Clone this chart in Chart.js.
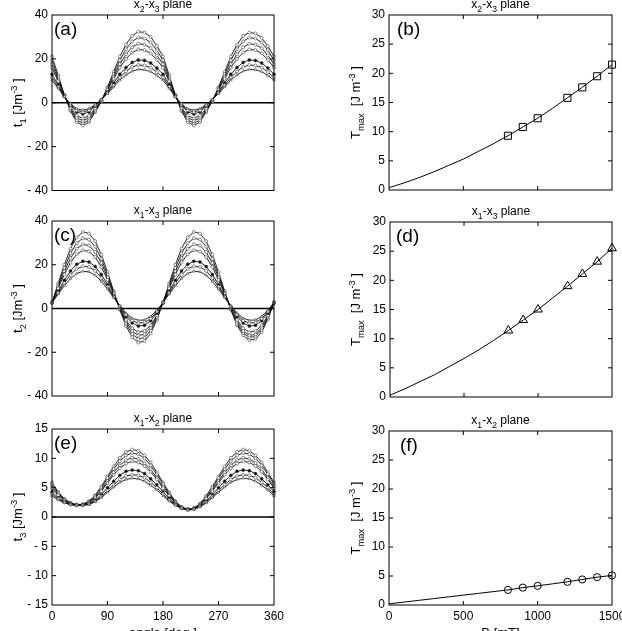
<!DOCTYPE html>
<html>
<head>
<meta charset="utf-8">
<script src="https://cdn.jsdelivr.net/npm/chart.js@4.4.0/dist/chart.umd.min.js"></script>
<style>
  html, body { margin: 0; padding: 0; background: #fff; }
  #wrap { position: relative; width: 622px; height: 631px; overflow: hidden; }
  #wrap canvas { position: absolute; left: 0; top: 0; }
</style>
</head>
<body>
<div id="wrap">
  <canvas id="pa" width="622" height="631"></canvas>
  <canvas id="pb" width="622" height="631"></canvas>
  <canvas id="pc" width="622" height="631"></canvas>
  <canvas id="pd" width="622" height="631"></canvas>
  <canvas id="pe" width="622" height="631"></canvas>
  <canvas id="pf" width="622" height="631"></canvas>
</div>
<script>
// angle axis, 10 deg steps
const angle = [0,10,20,30,40,50,60,70,80,90,100,110,120,130,140,150,160,170,180,
  190,200,210,220,230,240,250,260,270,280,290,300,310,320,330,340,350,360];
const fieldB = [800, 900, 1000, 1200, 1300, 1400, 1500];

// (a) t1, x2-x3 plane, one curve per field
const t1_800  = [10.3,6.6,2.7,-0.5,-2.7,-3.4,-2.7,-0.8,1.4,4.2,7.2,10.3,12.7,14.4,15.2,15.0,14.2,12.4,10.3,6.6,2.7,-0.5,-2.7,-3.4,-2.7,-0.8,1.4,4.2,7.2,10.3,12.7,14.4,15.2,15.0,14.2,12.4,10.3];
const t1_900  = [11.5,7.3,2.8,-0.9,-3.4,-4.2,-3.4,-1.2,1.3,4.6,8.0,11.5,14.3,16.3,17.2,17.0,16.0,14.0,11.5,7.3,2.8,-0.9,-3.4,-4.2,-3.4,-1.2,1.3,4.6,8.0,11.5,14.3,16.3,17.2,17.0,16.0,14.0,11.5];
const t1_1000 = [13.0,8.1,3.0,-1.3,-4.2,-5.1,-4.2,-1.6,1.3,5.0,9.0,13.0,16.1,18.4,19.5,19.3,18.1,15.8,13.0,8.1,3.0,-1.3,-4.2,-5.1,-4.2,-1.6,1.3,5.0,9.0,13.0,16.1,18.4,19.5,19.3,18.1,15.8,13.0];
const t1_1200 = [16.0,9.8,3.2,-2.3,-5.9,-7.1,-5.9,-2.6,1.0,5.8,10.9,16.0,20.0,22.9,24.3,24.0,22.5,19.6,16.0,9.8,3.2,-2.3,-5.9,-7.1,-5.9,-2.6,1.0,5.8,10.9,16.0,20.0,22.9,24.3,24.0,22.5,19.6,16.0];
const t1_1300 = [17.6,10.6,3.3,-2.8,-6.9,-8.2,-6.9,-3.2,0.9,6.2,11.9,17.6,22.1,25.3,26.9,26.5,24.9,21.6,17.6,10.6,3.3,-2.8,-6.9,-8.2,-6.9,-3.2,0.9,6.2,11.9,17.6,22.1,25.3,26.9,26.5,24.9,21.6,17.6];
const t1_1400 = [19.4,11.6,3.5,-3.3,-7.9,-9.3,-7.9,-3.8,0.8,6.7,13.0,19.4,24.4,28.0,29.7,29.3,27.5,23.9,19.4,11.6,3.5,-3.3,-7.9,-9.3,-7.9,-3.8,0.8,6.7,13.0,19.4,24.4,28.0,29.7,29.3,27.5,23.9,19.4];
const t1_1500 = [21.1,12.6,3.6,-3.8,-8.8,-10.4,-8.8,-4.3,0.6,7.1,14.1,21.1,26.5,30.5,32.4,32.0,30.0,26.0,21.1,12.6,3.6,-3.8,-8.8,-10.4,-8.8,-4.3,0.6,7.1,14.1,21.1,26.5,30.5,32.0,31.6,29.6,25.8,21.1];

// (c) t2, x1-x3 plane
const t2_800  = [2.7,6.6,10.4,13.7,16.0,17.0,16.8,15.2,12.4,8.9,5.0,1.2,-2.1,-4.4,-5.4,-5.2,-3.6,-0.8,2.7,6.6,10.4,13.7,16.0,17.0,16.8,15.2,12.4,8.9,5.0,1.2,-2.1,-4.4,-5.4,-5.2,-3.6,-0.8,2.7];
const t2_900  = [2.7,7.2,11.6,15.4,18.1,19.3,19.0,17.2,14.0,9.9,5.4,1.0,-2.8,-5.5,-6.7,-6.4,-4.6,-1.4,2.7,7.2,11.6,15.4,18.1,19.3,19.0,17.2,14.0,9.9,5.4,1.0,-2.8,-5.5,-6.7,-6.4,-4.6,-1.4,2.7];
const t2_1000 = [2.7,7.8,12.9,17.2,20.2,21.6,21.3,19.2,15.6,10.9,5.8,0.7,-3.6,-6.6,-8.0,-7.7,-5.6,-2.0,2.7,7.8,12.9,17.2,20.2,21.6,21.3,19.2,15.6,10.9,5.8,0.7,-3.6,-6.6,-8.0,-7.7,-5.6,-2.0,2.7];
const t2_1200 = [2.7,9.2,15.6,21.0,24.8,26.6,26.1,23.5,19.0,13.1,6.6,0.3,-5.2,-9.0,-10.8,-10.3,-7.7,-3.2,2.7,9.2,15.6,21.0,24.8,26.6,26.1,23.5,19.0,13.1,6.6,0.3,-5.2,-9.0,-10.8,-10.3,-7.7,-3.2,2.7];
const t2_1300 = [2.7,10.0,17.0,23.0,27.3,29.3,28.8,25.8,20.8,14.3,7.0,0.0,-6.0,-10.3,-12.3,-11.8,-8.8,-3.8,2.7,10.0,17.0,23.0,27.3,29.3,28.8,25.8,20.8,14.3,7.0,0.0,-6.0,-10.3,-12.3,-11.8,-8.8,-3.8,2.7];
const t2_1400 = [2.7,10.7,18.5,25.2,29.9,32.1,31.5,28.3,22.7,15.5,7.5,-0.3,-7.0,-11.7,-13.9,-13.3,-10.1,-4.5,2.7,10.7,18.5,25.2,29.9,32.1,31.5,28.3,22.7,15.5,7.5,-0.3,-7.0,-11.2,-13.2,-12.7,-9.7,-4.4,2.7];
const t2_1500 = [2.7,11.5,20.0,27.4,32.5,35.0,34.3,30.8,24.6,16.7,7.9,-0.6,-8.0,-13.1,-15.6,-14.9,-11.4,-5.2,2.7,11.5,20.0,27.4,32.5,35.0,34.3,30.8,24.6,16.7,7.9,-0.6,-7.6,-12.3,-14.5,-13.9,-10.8,-5.0,2.7];

// (e) t3, x1-x2 plane
const t3_800  = [3.6,2.9,2.4,2.1,2.0,2.0,2.1,2.6,3.3,4.2,5.1,5.9,6.4,6.6,6.5,6.1,5.4,4.6,3.6,2.7,2.0,1.4,1.2,1.3,1.7,2.4,3.3,4.2,5.1,5.9,6.4,6.6,6.5,6.1,5.4,4.6,3.6];
const t3_900  = [3.9,3.1,2.5,2.1,2.0,2.0,2.2,2.7,3.5,4.5,5.5,6.4,7.0,7.2,7.1,6.7,5.9,5.0,3.9,2.9,2.1,1.5,1.2,1.3,1.8,2.5,3.5,4.5,5.5,6.4,7.0,7.2,7.1,6.7,5.9,5.0,3.9];
const t3_1000 = [4.3,3.3,2.6,2.2,2.0,2.0,2.3,2.9,3.8,5.0,6.1,7.1,7.8,8.0,7.9,7.4,6.5,5.5,4.3,3.2,2.2,1.5,1.3,1.4,1.9,2.7,3.8,5.0,6.1,7.1,7.8,8.0,7.9,7.4,6.5,5.5,4.3];
const t3_1200 = [4.9,3.7,2.8,2.3,2.0,2.1,2.4,3.2,4.4,5.8,7.2,8.3,9.1,9.5,9.3,8.7,7.7,6.4,4.9,3.6,2.4,1.6,1.3,1.4,2.0,3.1,4.4,5.8,7.2,8.3,9.1,9.5,9.3,8.7,7.7,6.4,4.9];
const t3_1300 = [5.2,3.9,2.9,2.3,2.0,2.1,2.5,3.4,4.6,6.1,7.6,8.8,9.7,10.1,9.9,9.2,8.1,6.7,5.2,3.8,2.5,1.7,1.3,1.5,2.1,3.2,4.6,6.1,7.6,8.8,9.7,10.1,9.9,9.2,8.1,6.7,5.2];
const t3_1400 = [5.6,4.1,3.0,2.4,2.1,2.1,2.6,3.6,4.9,6.6,8.2,9.5,10.5,10.9,10.7,10.0,8.8,7.3,5.6,4.0,2.6,1.7,1.3,1.5,2.2,3.4,4.9,6.6,8.2,9.5,10.5,10.9,10.7,10.0,8.8,7.3,5.6];
const t3_1500 = [5.9,4.3,3.1,2.4,2.1,2.2,2.7,3.7,5.2,6.9,8.6,10.1,11.1,11.5,11.3,10.5,9.3,7.6,5.9,4.2,2.7,1.7,1.3,1.5,2.3,3.6,5.2,6.9,8.6,10.1,11.1,11.5,11.3,10.5,9.3,7.6,5.9];

// right column: Tmax vs B
const tmaxX2X3 = [9.3, 10.8, 12.3, 15.8, 17.6, 19.5, 21.5];
const tmaxX1X3 = [11.4, 13.2, 15.0, 19.0, 21.1, 23.2, 25.5];
const tmaxX1X2 = [2.6, 3.0, 3.3, 4.0, 4.4, 4.8, 5.1];
const fitB     = [0,100,200,300,400,500,600,700,800,900,1000,1100,1200,1300,1400,1500];
const fitX2X3  = [0.4,1.2,2.1,3.1,4.2,5.3,6.6,7.9,9.3,10.8,12.3,14.0,15.8,17.6,19.5,21.5];
const fitX1X3  = [0.3,1.4,2.6,3.8,5.2,6.6,8.1,9.7,11.4,13.2,15.0,17.0,19.0,21.1,23.2,25.5];
const fitX1X2  = [0.2,0.5,0.8,1.1,1.4,1.7,2.0,2.3,2.6,3.0,3.3,3.65,4.0,4.4,4.8,5.1];

const FONT = '"Liberation Sans", Arial, Helvetica, sans-serif';
const curveMarks = ['triangle','circle','circle','circle','circle','circle','circle'];
const curveFill  = ['#fff','#fff','#000','#fff','#fff','#fff','#fff'];

function richWidth(ctx, parts, size) {
  let w = 0;
  parts.forEach(([t, m]) => {
    ctx.font = (m ? size * 0.72 : size) + 'px ' + FONT;
    w += ctx.measureText(t).width;
  });
  return w;
}
function drawRich(ctx, parts, x, y, size) {
  let cx = x - richWidth(ctx, parts, size) / 2;
  ctx.textAlign = 'left';
  ctx.textBaseline = 'alphabetic';
  parts.forEach(([t, m]) => {
    ctx.font = (m ? size * 0.72 : size) + 'px ' + FONT;
    const dy = m === -1 ? size * 0.3 : (m === 1 ? -size * 0.42 : 0);
    ctx.fillText(t, cx, y + dy);
    cx += ctx.measureText(t).width;
  });
}

// box, inward ticks, zero line, labels
const framePlugin = {
  id: 'frame',
  beforeDatasetsDraw(chart, args, o) {
    if (!o.zero) return;
    const {ctx, chartArea: a, scales: {y}} = chart;
    const py = y.getPixelForValue(0);
    ctx.save();
    ctx.strokeStyle = '#000';
    ctx.lineWidth = 1.6;
    ctx.beginPath(); ctx.moveTo(a.left, py); ctx.lineTo(a.right, py); ctx.stroke();
    ctx.restore();
  },
  afterDraw(chart, args, o) {
    const {ctx, chartArea: a, scales: {x, y}} = chart;
    ctx.save();
    ctx.strokeStyle = '#000';
    ctx.lineWidth = 1;
    ctx.strokeRect(a.left, a.top, a.right - a.left, a.bottom - a.top);
    const len = 4;
    ctx.beginPath();
    x.ticks.forEach(t => {
      if (t.value <= x.min || t.value >= x.max) return;
      const px = x.getPixelForValue(t.value);
      ctx.moveTo(px, a.bottom); ctx.lineTo(px, a.bottom - len);
      ctx.moveTo(px, a.top); ctx.lineTo(px, a.top + len);
    });
    y.ticks.forEach(t => {
      if (t.value <= y.min || t.value >= y.max) return;
      const py = y.getPixelForValue(t.value);
      ctx.moveTo(a.left, py); ctx.lineTo(a.left + len, py);
      ctx.moveTo(a.right, py); ctx.lineTo(a.right - len, py);
    });
    ctx.stroke();

    ctx.fillStyle = '#000';
    // panel letter
    ctx.font = '19px ' + FONT;
    ctx.textAlign = 'left';
    ctx.textBaseline = 'alphabetic';
    ctx.fillText(o.letter, a.left + o.ldx, a.top + 20);
    // title
    drawRich(ctx, o.title, (a.left + a.right) / 2, a.top - 7, 12);
    // y label
    ctx.save();
    ctx.translate(o.ylabX, (a.top + a.bottom) / 2);
    ctx.rotate(-Math.PI / 2);
    drawRich(ctx, o.ylab, 0, 0, 13);
    ctx.restore();
    // x label
    if (o.xlab) {
      ctx.font = '13px ' + FONT;
      ctx.textAlign = 'center';
      ctx.fillText(o.xlab, (a.left + a.right) / 2, 637);
    }
    ctx.restore();
  }
};

function fixX(s) { s.height = 20; s.paddingLeft = 0; s.paddingRight = 0; s.paddingTop = 0; s.paddingBottom = 0; }
function fixY(s) { s.width = 40; s.paddingLeft = 0; s.paddingRight = 0; s.paddingTop = 0; s.paddingBottom = 0; }
function tickText(v) { return v < 0 ? '- ' + (-v) : String(v); }

function leftSets(series) {
  return series.map((arr, i) => ({
    data: angle.map((a, j) => ({x: a, y: arr[j]})),
    borderColor: '#111',
    borderWidth: 0.9,
    pointStyle: curveMarks[i],
    pointRadius: 1.5,
    pointBorderWidth: 0.6,
    pointBorderColor: '#444',
    pointBackgroundColor: curveFill[i],
    clip: false
  }));
}
function rightSets(fitY, tmax, mark, r) {
  return [
    { data: fitB.map((b, i) => ({x: b, y: fitY[i]})), borderColor: '#000', borderWidth: 1, pointRadius: 0, clip: false },
    { data: fieldB.map((b, i) => ({x: b, y: tmax[i]})), showLine: false, pointStyle: mark, pointRadius: r,
      pointBorderColor: '#000', pointBorderWidth: 1, pointBackgroundColor: '#fff', clip: false }
  ];
}

function panel(id, box, c) {
  const [L, T, R, B] = box;
  return new Chart(document.getElementById(id), {
    type: 'line',
    data: { datasets: c.sets },
    options: {
      responsive: false,
      animation: false,
      devicePixelRatio: 1,
      layout: { padding: { left: L - 40, top: T, right: 622 - R, bottom: 631 - B - 20 } },
      plugins: { legend: { display: false }, tooltip: { enabled: false }, frame: c.frame },
      scales: {
        x: {
          type: 'linear', min: c.xmin, max: c.xmax, afterFit: fixX,
          ticks: { display: c.xticks, stepSize: c.xstep, autoSkip: false, maxRotation: 0, callback: tickText,
                   font: { family: FONT, size: 12 }, color: '#000', padding: 4 },
          grid: { display: false, drawTicks: false }, border: { display: false }
        },
        y: {
          type: 'linear', min: c.ymin, max: c.ymax, afterFit: fixY,
          ticks: { stepSize: c.ystep, autoSkip: false, callback: tickText,
                   font: { family: FONT, size: 12 }, color: '#000', padding: 4 },
          grid: { display: false, drawTicks: false }, border: { display: false }
        }
      }
    },
    plugins: [framePlugin]
  });
}

const tLeft = n => [['t', 0], [n, -1], [' [Jm', 0], ['-3', 1], [' ]', 0]];
const tRight = [['T', 0], ['max', -1], ['  [J m', 0], ['-3', 1], [' ]', 0]];
const plane = (p, q) => [['x', 0], [p, -1], ['-x', 0], [q, -1], [' plane', 0]];

panel('pa', [52, 15, 274, 190.5], {
  sets: leftSets([t1_800, t1_900, t1_1000, t1_1200, t1_1300, t1_1400, t1_1500]),
  xmin: 0, xmax: 360, xstep: 90, xticks: false, ymin: -40, ymax: 40, ystep: 20,
  frame: { letter: '(a)', ldx: 2, title: plane('2', '3'), ylab: tLeft('1'), ylabX: 22, zero: true }
});
panel('pb', [389, 15, 612, 190], {
  sets: rightSets(fitX2X3, tmaxX2X3, 'rect', 5),
  xmin: 0, xmax: 1500, xstep: 500, xticks: false, ymin: 0, ymax: 30, ystep: 5,
  frame: { letter: '(b)', ldx: 8, title: plane('2', '3'), ylab: tRight, ylabX: 360 }
});
panel('pc', [52, 221, 274, 396], {
  sets: leftSets([t2_800, t2_900, t2_1000, t2_1200, t2_1300, t2_1400, t2_1500]),
  xmin: 0, xmax: 360, xstep: 90, xticks: false, ymin: -40, ymax: 40, ystep: 20,
  frame: { letter: '(c)', ldx: 2, title: plane('1', '3'), ylab: tLeft('2'), ylabX: 22, zero: true }
});
panel('pd', [390, 222, 612, 397], {
  sets: rightSets(fitX1X3, tmaxX1X3, 'triangle', 5),
  xmin: 0, xmax: 1500, xstep: 500, xticks: false, ymin: 0, ymax: 30, ystep: 5,
  frame: { letter: '(d)', ldx: 6, title: plane('1', '3'), ylab: tRight, ylabX: 360 }
});
panel('pe', [52, 429, 274, 605], {
  sets: leftSets([t3_800, t3_900, t3_1000, t3_1200, t3_1300, t3_1400, t3_1500]),
  xmin: 0, xmax: 360, xstep: 90, xticks: true, ymin: -15, ymax: 15, ystep: 5,
  frame: { letter: '(e)', ldx: 2, title: plane('1', '2'), ylab: tLeft('3'), ylabX: 22, zero: true, xlab: 'angle [deg.]' }
});
panel('pf', [389, 431, 612, 605], {
  sets: rightSets(fitX1X2, tmaxX1X2, 'circle', 3.6),
  xmin: 0, xmax: 1500, xstep: 500, xticks: true, ymin: 0, ymax: 30, ystep: 5,
  frame: { letter: '(f)', ldx: 11, title: plane('1', '2'), ylab: tRight, ylabX: 360, xlab: 'B [mT]' }
});
</script>
</body>
</html>
